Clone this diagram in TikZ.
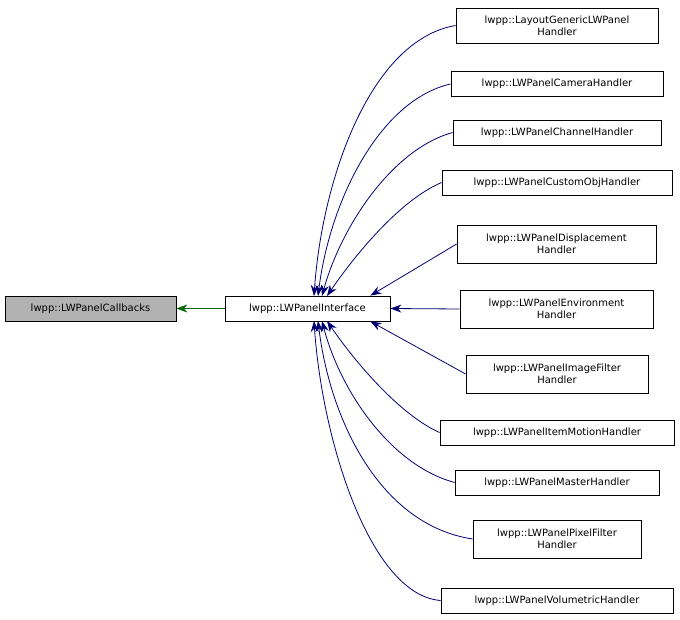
\documentclass[tikz,border=0pt]{standalone}
\usepackage{fontspec}
\setmainfont{DejaVu Sans}
\usetikzlibrary{arrows.meta}
\begin{document}
\begin{tikzpicture}[x=1pt,y=-1pt,
  box/.style={draw=black,fill=white,line width=0.8pt,inner sep=1pt,align=center,font=\fontsize{10}{12}\selectfont},
  inh/.style={draw=blue!45!black,line width=0.8pt,{Stealth[length=11pt,width=8pt]}-},
  ginh/.style={draw=green!40!black,line width=0.8pt,{Stealth[length=11pt,width=8pt]}-}]
\useasboundingbox (0,0) rectangle (680,620);
\node[box,fill=gray!60,minimum width=171,minimum height=25] (cb) at (90.5,308.5) {lwpp::LWPanelCallbacks};
\node[box,minimum width=165,minimum height=25] (pi) at (307.5,308.5) {lwpp::LWPanelInterface};
\node[box,minimum width=202,minimum height=35] (h1) at (557,25.5) {lwpp::LayoutGenericLWPanel\\Handler};
\node[box,minimum width=212,minimum height=25] (h2) at (557,84) {lwpp::LWPanelCameraHandler};
\node[box,minimum width=208,minimum height=25] (h3) at (557,132.5) {lwpp::LWPanelChannelHandler};
\node[box,minimum width=230,minimum height=25] (h4) at (557,182.5) {lwpp::LWPanelCustomObjHandler};
\node[box,minimum width=199,minimum height=38] (h5) at (556.5,244) {lwpp::LWPanelDisplacement\\Handler};
\node[box,minimum width=193,minimum height=38] (h6) at (556.5,309) {lwpp::LWPanelEnvironment\\Handler};
\node[box,minimum width=182,minimum height=38] (h7) at (557,374) {lwpp::LWPanelImageFilter\\Handler};
\node[box,minimum width=234,minimum height=25] (h8) at (557,432.5) {lwpp::LWPanelItemMotionHandler};
\node[box,minimum width=204,minimum height=25] (h9) at (557,482.5) {lwpp::LWPanelMasterHandler};
\node[box,minimum width=168,minimum height=38] (h10) at (557,539) {lwpp::LWPanelPixelFilter\\Handler};
\node[box,minimum width=232,minimum height=25] (h11) at (557,600.5) {lwpp::LWPanelVolumetricHandler};
\draw[ginh] (cb.east) -- (pi.west);
\coordinate (t1) at (314,296); \coordinate (t2) at (318,296); \coordinate (t3) at (322,296); \coordinate (t4) at (327,296);
\coordinate (b1) at (314,321); \coordinate (b2) at (318,321); \coordinate (b3) at (322,321); \coordinate (b4) at (327,321);
\draw[inh] (t1) .. controls (322,180) and (370,40) .. (h1.west);
\draw[inh] (t2) .. controls (330,200) and (380,100) .. (h2.west);
\draw[inh] (t3) .. controls (340,230) and (390,150) .. (h3.west);
\draw[inh] (t4) .. controls (355,255) and (400,200) .. (h4.west);
\draw[inh] (pi.north east) ++(-20,0) -- (h5.west);
\draw[inh] (pi.east) -- (h6.west);
\draw[inh] (pi.south east) ++(-20,0) -- (h7.west);
\draw[inh] (b4) .. controls (355,362) and (400,415) .. (h8.west);
\draw[inh] (b3) .. controls (340,390) and (390,465) .. (h9.west);
\draw[inh] (b2) .. controls (330,420) and (380,525) .. (h10.west);
\draw[inh] (b1) .. controls (322,440) and (370,595) .. (h11.west);
\end{tikzpicture}
\end{document}
